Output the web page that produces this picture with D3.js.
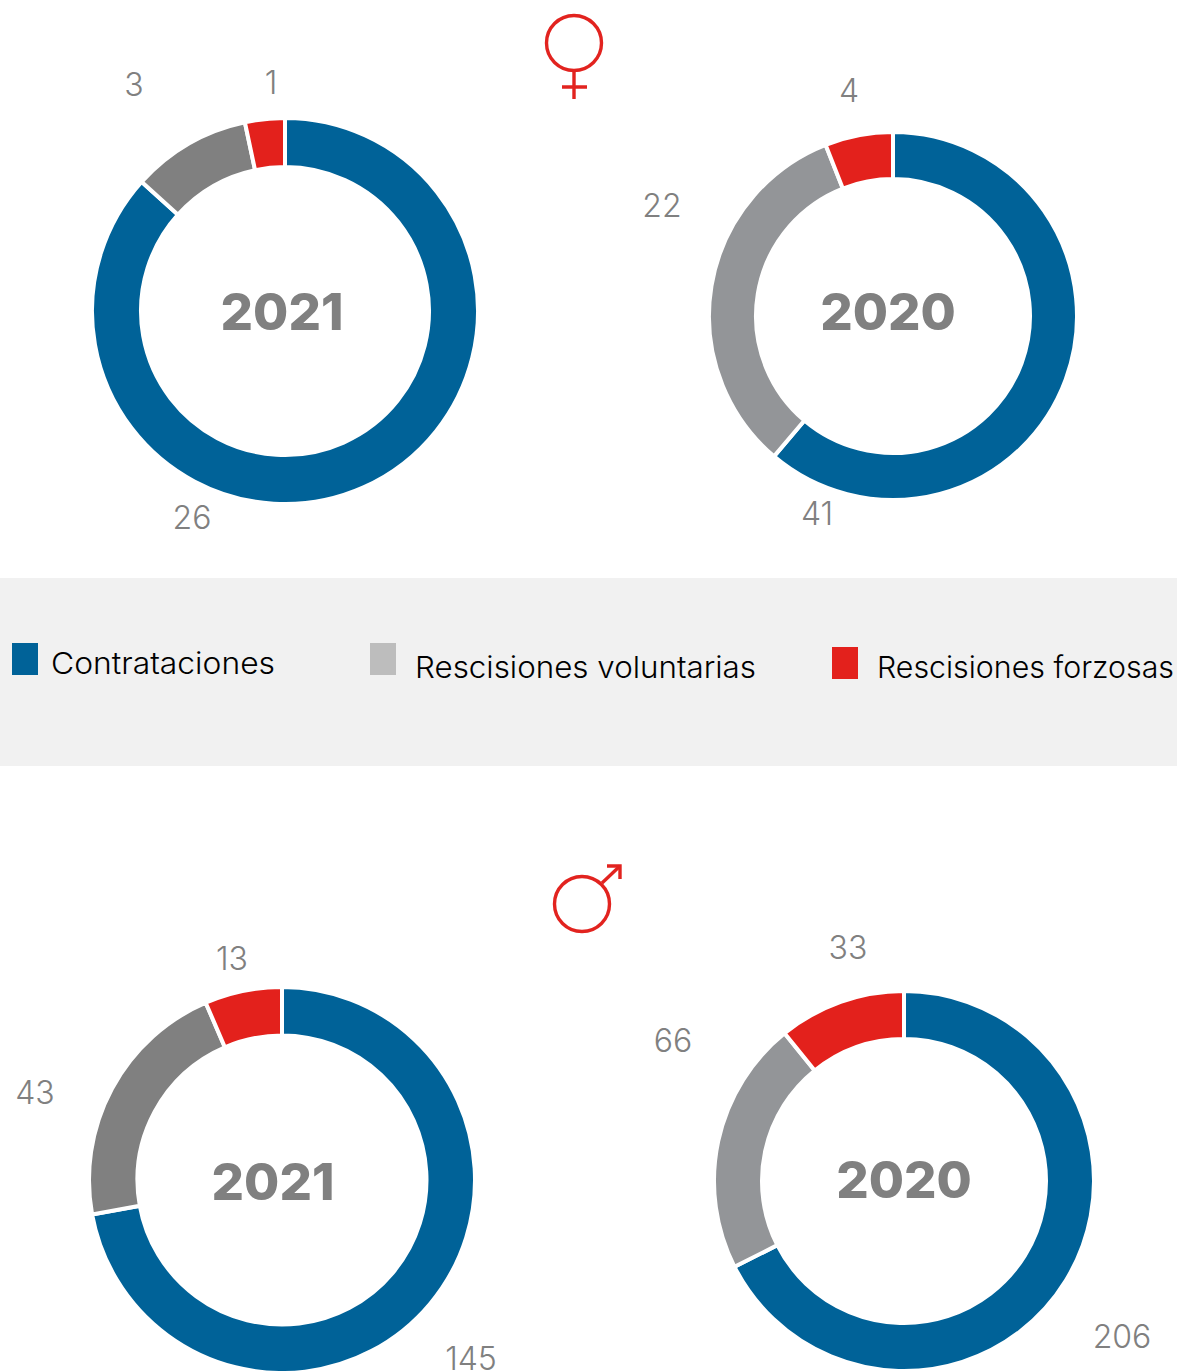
<!DOCTYPE html>
<html>
<head>
<meta charset="utf-8">
<script src="https://cdn.jsdelivr.net/npm/d3@7/dist/d3.min.js"></script>
<style>
  html, body { margin: 0; padding: 0; background: #fff; }
  svg { display: block; font-family: Inter, "Open Sans", sans-serif; }
</style>
</head>
<body>
<svg id="chart"></svg>
<script>
const categories = ['Contrataciones', 'Rescisiones voluntarias', 'Rescisiones forzosas'];
const years = ['2021', '2020', '2021', '2020'];
const mujeres2021 = [26, 3, 1];
const mujeres2020 = [41, 22, 4];
const hombres2021 = [145, 43, 13];
const hombres2020 = [206, 66, 33];

const width = 1177;
const height = 1371;
const blue = '#006298';
const red = '#e3211c';
const symbolRed = '#e2231f';

// each donut was placed by hand in the original, so the label spots are too
const panels = [
  { values: mujeres2021, year: years[0], cx: 285, cy: 311, r: 193, r0: 144, gray: '#808080', yearX: 282, yearY: 312, labels: [[192, 517], [134, 84], [271, 82]] },
  { values: mujeres2020, year: years[1], cx: 893, cy: 316, r: 184, r0: 137, gray: '#939598', yearX: 888, yearY: 312, labels: [[817, 513], [662, 205], [849, 90]] },
  { values: hombres2021, year: years[2], cx: 282, cy: 1180, r: 193, r0: 144.5, gray: '#808080', yearX: 273, yearY: 1182, labels: [[471, 1358], [35, 1092], [232, 958]] },
  { values: hombres2020, year: years[3], cx: 904, cy: 1181, r: 190, r0: 142, gray: '#939598', yearX: 904, yearY: 1180, labels: [[1122, 1336], [673, 1040], [848, 947]] },
];

const svg = d3.select('#chart').attr('width', width).attr('height', height).attr('viewBox', `0 0 ${width} ${height}`);

const pie = d3.pie().sort(null);

panels.forEach((p) => {
  const color = d3.scaleOrdinal(categories, [blue, p.gray, red]);
  const arc = d3.arc().innerRadius(p.r0).outerRadius(p.r);
  const g = svg.append('g').attr('transform', `translate(${p.cx},${p.cy})`);
  g.selectAll('path').data(pie(p.values)).join('path')
    .attr('d', arc)
    .attr('fill', (d, i) => color(categories[i]))
    .attr('stroke', '#fff').attr('stroke-width', 4);
  svg.append('text').attr('x', p.yearX).attr('y', p.yearY).attr('dy', '0.36em')
    .attr('text-anchor', 'middle').attr('font-size', 51).attr('font-weight', 800)
    .attr('fill', '#808080').text(p.year);
  svg.append('g').selectAll('text').data(p.values).join('text')
    .attr('x', (d, i) => p.labels[i][0]).attr('y', (d, i) => p.labels[i][1]).attr('dy', '0.36em')
    .attr('text-anchor', 'middle').attr('font-size', 32).attr('font-weight', 300)
    .attr('fill', '#808080').text((d) => d);
});

// legend band
svg.append('rect').attr('x', 0).attr('y', 578).attr('width', width).attr('height', 188).attr('fill', '#f1f1f1');
const legendItems = [
  { x: 12, y: 643, tx: 51, ty: 674, w: 224, fill: blue },
  { x: 370, y: 643, tx: 415, ty: 678, w: 341, fill: '#bdbdbd' },
  { x: 832, y: 647, tx: 877, ty: 678, w: 297, fill: red },
];
const legend = svg.append('g').selectAll('g').data(categories).join('g');
legend.append('rect').attr('x', (d, i) => legendItems[i].x).attr('y', (d, i) => legendItems[i].y)
  .attr('width', 26).attr('height', 32).attr('fill', (d, i) => legendItems[i].fill);
legend.append('text').attr('x', (d, i) => legendItems[i].tx).attr('y', (d, i) => legendItems[i].ty)
  .attr('font-size', 30).attr('font-weight', 300).attr('fill', '#000')
  .attr('textLength', (d, i) => legendItems[i].w).attr('lengthAdjust', 'spacingAndGlyphs').text((d) => d);

// gender symbols
const female = svg.append('g').attr('fill', 'none').attr('stroke', symbolRed).attr('stroke-width', 3.4);
female.append('circle').attr('cx', 574).attr('cy', 43).attr('r', 27.5);
female.append('path').attr('d', 'M574 71V99M562 87H587');
const male = svg.append('g').attr('fill', 'none').attr('stroke', symbolRed).attr('stroke-width', 3.4);
male.append('circle').attr('cx', 582).attr('cy', 904).attr('r', 27.5);
male.append('path').attr('d', 'M602 883L620 866');
male.append('path').attr('d', 'M607 866H620V879');
</script>
</body>
</html>
